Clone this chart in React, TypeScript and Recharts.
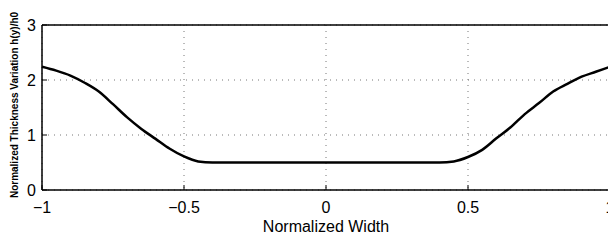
import { CartesianGrid, Label, Line, LineChart, ReferenceLine, XAxis, YAxis } from "recharts";

// normalized width positions and the thickness
const widthPos = [
  -1, -0.95, -0.9, -0.85, -0.8, -0.75, -0.7, -0.65, -0.6, -0.55, -0.5, -0.45, -0.4,
  -0.3, -0.2, -0.1, 0, 0.1, 0.2, 0.3, 0.4,
  0.45, 0.5, 0.55, 0.6, 0.65, 0.7, 0.75, 0.8, 0.85, 0.9, 0.95, 1,
];
const thickness = [
  2.24, 2.17, 2.08, 1.95, 1.79, 1.56, 1.32, 1.11, 0.93, 0.75, 0.61, 0.52, 0.5,
  0.5, 0.5, 0.5, 0.5, 0.5, 0.5, 0.5, 0.5,
  0.52, 0.6, 0.73, 0.94, 1.14, 1.38, 1.58, 1.79, 1.93, 2.06, 2.15, 2.24,
];
const xTicks = [-1, -0.5, 0, 0.5, 1];
const yTicks = [0, 1, 2, 3];

const data = widthPos.map((w, i) => ({ w, h: thickness[i] }));

const FONT = "'Liberation Sans', Arial, Helvetica, sans-serif";

// matlab style minus sign
const fmt = (v: number) => (v < 0 ? `\u2212${Math.abs(v)}` : `${v}`);

export default function App() {
  return (
    <div
      style={{
        position: "fixed",
        left: 0,
        top: 0,
        width: 608,
        height: 240,
        overflow: "hidden",
        background: "#fff",
      }}
    >
      <LineChart
        width={620}
        height={240}
        data={data}
        margin={{ top: 25, right: 10, bottom: 0, left: 0 }}
      >
        <CartesianGrid stroke="#777" strokeDasharray="1 5" />
        <XAxis
          dataKey="w"
          type="number"
          domain={[-1, 1]}
          ticks={xTicks}
          tickFormatter={fmt}
          height={50}
          tickSize={-5}
          tickMargin={17}
          axisLine={{ stroke: "#000", strokeWidth: 1.5 }}
          tickLine={{ stroke: "#000" }}
          tick={{ fill: "#000", fontSize: 16, fontFamily: FONT }}
          interval={0}
        >
          <Label
            value="Normalized Width"
            position="insideBottom"
            offset={8}
            style={{ fill: "#000", fontSize: 16, fontFamily: FONT }}
          />
        </XAxis>
        <YAxis
          type="number"
          domain={[0, 3]}
          ticks={yTicks}
          width={42}
          tickSize={-5}
          tickMargin={11}
          axisLine={{ stroke: "#000", strokeWidth: 1.5 }}
          tickLine={{ stroke: "#000" }}
          tick={{ fill: "#000", fontSize: 16, fontFamily: FONT }}
          interval={0}
        >
          <Label
            content={() => (
              <text
                transform="translate(14,105) rotate(-90)"
                textAnchor="middle"
                dominantBaseline="central"
                fontSize={10}
                fontWeight="bold"
                fontFamily={FONT}
                fill="#000"
              >
                Normalized Thickness Variation h(y)/h0
              </text>
            )}
          />
        </YAxis>
        <ReferenceLine y={3} stroke="#000" strokeWidth={1.5} />
        <ReferenceLine x={1} stroke="#000" strokeWidth={1.5} />
        <Line
          type="monotone"
          dataKey="h"
          stroke="#000"
          strokeWidth={2.5}
          dot={false}
          isAnimationActive={false}
        />
      </LineChart>
    </div>
  );
}
